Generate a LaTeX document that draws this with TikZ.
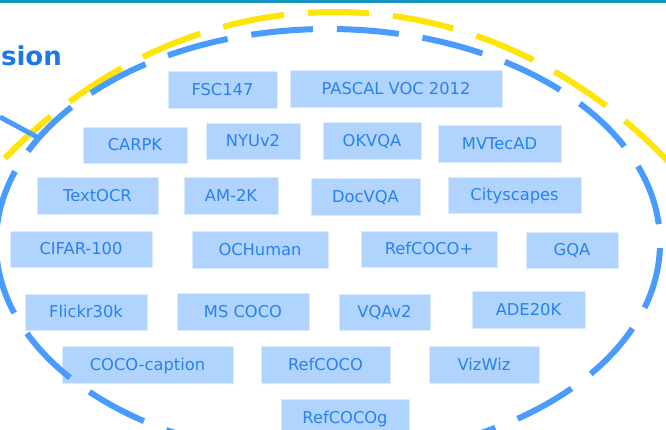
\documentclass[tikz,border=0pt]{standalone}
\usepackage{fontspec}
\setmainfont{DejaVu Sans}
\definecolor{barteal}{RGB}{22,150,190}
\definecolor{ringblue}{RGB}{74,155,255}
\definecolor{ringyellow}{RGB}{255,228,10}
\definecolor{boxfill}{RGB}{177,212,255}
\definecolor{boxtext}{RGB}{40,130,238}
\definecolor{headblue}{RGB}{27,120,235}

\begin{document}
\begin{tikzpicture}[x=1pt,y=-1pt,
  dset/.style={fill=boxfill, draw=white!55!boxfill, line width=0.6pt, inner sep=0pt,
    text=boxtext, font=\fontsize{16.3}{19}\selectfont, text height=11.9pt, text depth=0pt},
  ring/.style={line width=6pt, dash pattern=on 62pt off 24pt},
  feedline/.style={ringblue, line width=5pt}]

\useasboundingbox (0,0) rectangle (666,429);
\clip (0,0) rectangle (666,429);

% header strip and heading fragment
\fill[barteal] (0,0) rectangle (666,3);
\node[anchor=base east, inner sep=0pt, text=headblue,
      font=\bfseries\fontsize{26}{30}\selectfont] (head) at (62,65) {sion};

% dataset boxes
\node[dset, minimum width=109pt, minimum height=37pt] (fsc)    at (222.5,89.5) {FSC147};
\node[dset, minimum width=212pt, minimum height=37pt] (voc)    at (396,88.5)   {PASCAL VOC 2012};
\node[dset, minimum width=104pt, minimum height=36pt] (carpk)  at (135,145)    {CARPK};
\node[dset, minimum width=94pt,  minimum height=36pt] (nyu)    at (253,141)    {NYUv2};
\node[dset, minimum width=98pt,  minimum height=37pt] (okvqa)  at (372,140.5)  {OKVQA};
\node[dset, minimum width=123pt, minimum height=37pt] (mvtec)  at (499.5,143.5){MVTecAD};
\node[dset, minimum width=121pt, minimum height=37pt] (tocr)   at (97.5,195.5) {TextOCR};
\node[dset, minimum width=94pt,  minimum height=37pt] (am2k)   at (231,195.5)  {AM-2K};
\node[dset, minimum width=109pt, minimum height=37pt] (docvqa) at (365.5,196.5){DocVQA};
\node[dset, minimum width=133pt, minimum height=36pt] (city)   at (514.5,195)  {Cityscapes};
\node[dset, minimum width=142pt, minimum height=36pt] (cifar)  at (81,249)     {CIFAR-100};
\node[dset, minimum width=136pt, minimum height=37pt] (ochum)  at (260,249.5)  {OCHuman};
\node[dset, minimum width=136pt, minimum height=36pt] (rcplus) at (429,249)    {RefCOCO+};
\node[dset, minimum width=92pt,  minimum height=36pt] (gqa)    at (572,250)    {GQA};
\node[dset, minimum width=122pt, minimum height=36pt] (flickr) at (86,312)     {Flickr30k};
\node[dset, minimum width=132pt, minimum height=37pt] (mscoco) at (243,311.5)  {MS COCO};
\node[dset, minimum width=91pt,  minimum height=36pt] (vqa)    at (384.5,312)  {VQAv2};
\node[dset, minimum width=113pt, minimum height=37pt] (ade)    at (528.5,309.5){ADE20K};
\node[dset, minimum width=171pt, minimum height=37pt] (capt)   at (147.5,364.5){COCO-caption};
\node[dset, minimum width=129pt, minimum height=37pt] (rc)     at (325.5,364.5){RefCOCO};
\node[dset, minimum width=110pt, minimum height=37pt] (vizwiz) at (484,364.5)  {VizWiz};
\node[dset, minimum width=128pt, minimum height=37pt] (rcg)    at (345,417.5)  {RefCOCOg};

% outer dashed ring, drawn as two halves from its top point
\draw[ring, ringyellow, dash phase=35pt] (335,12)
  arc[start angle=90, end angle=270, x radius=503pt, y radius=596pt];
\draw[ring, ringyellow, dash phase=28pt] (335,12)
  arc[start angle=90, end angle=-90, x radius=503pt, y radius=596pt];

% inner dashed ring, likewise
\draw[ring, ringblue, dash phase=71pt] (328,29)
  arc[start angle=90, end angle=270, x radius=332pt, y radius=214pt];
\draw[ring, ringblue, dash phase=77pt] (328,29)
  arc[start angle=90, end angle=-90, x radius=332pt, y radius=214pt];

% incoming link that stops on the inner ring
\coordinate (feed) at (0,117);
\coordinate (dock) at (37,137);
\draw[feedline] (feed) -- (dock);
\end{tikzpicture}
\end{document}
